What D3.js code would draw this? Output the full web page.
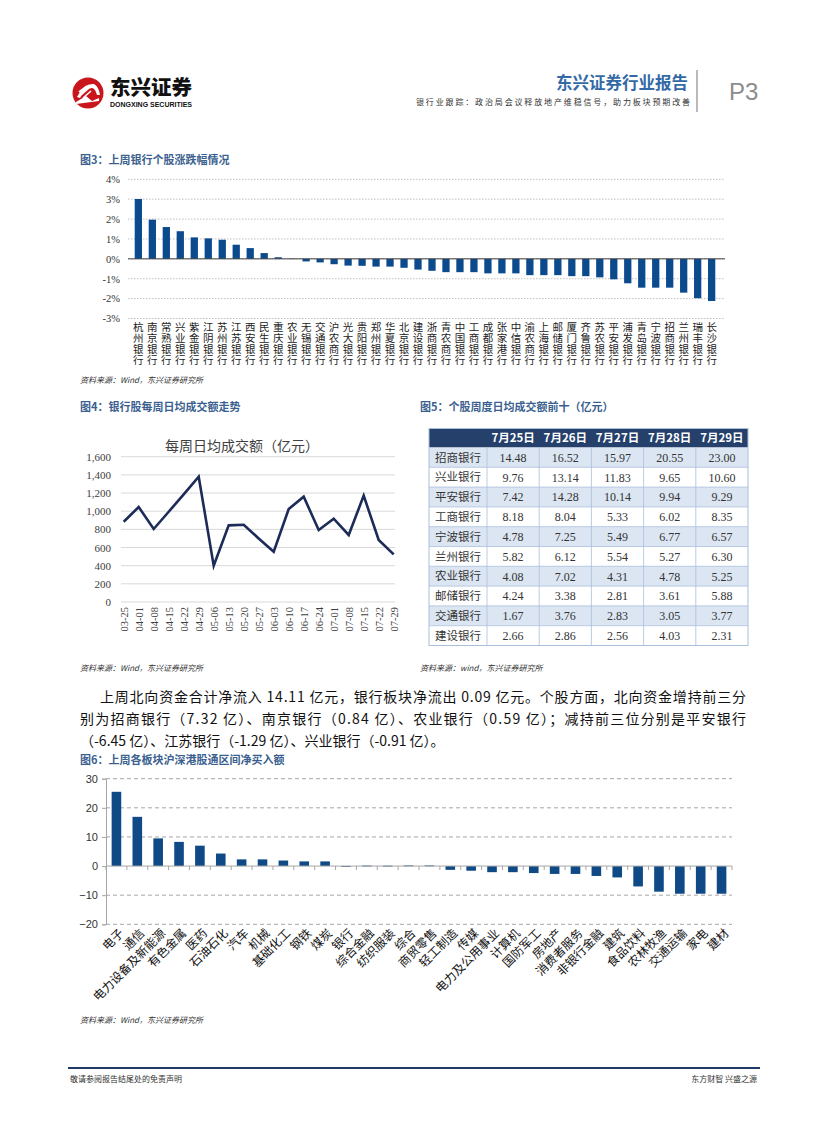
<!DOCTYPE html>
<html><head><meta charset="utf-8">
<script src="https://cdn.jsdelivr.net/npm/d3@7"></script>
<style>
body{margin:0;background:#fff;}
svg{display:block;}
text{font-family:"Noto Sans CJK SC","Noto Sans",sans-serif;}
</style></head><body>
<svg id="page" width="827" height="1122"></svg>
<script>
// ---------- DATA ----------
const fig3Banks = ["杭州银行","南京银行","常熟银行","兴业银行","紫金银行","江阴银行","苏州银行","江苏银行","西安银行","民生银行","重庆银行","农业银行","无锡银行","交通银行","沪农商行","光大银行","贵阳银行","郑州银行","华夏银行","北京银行","建设银行","浙商银行","青农商行","中国银行","工商银行","成都银行","张家港行","中信银行","渝农商行","上海银行","邮储银行","厦门银行","齐鲁银行","苏农银行","平安银行","浦发银行","青岛银行","宁波银行","招商银行","兰州银行","瑞丰银行","长沙银行"];
const fig3Values = [3.01,1.97,1.60,1.39,1.08,1.03,0.96,0.71,0.54,0.29,0.08,-0.01,-0.13,-0.18,-0.27,-0.34,-0.35,-0.39,-0.39,-0.45,-0.54,-0.60,-0.67,-0.67,-0.67,-0.73,-0.73,-0.73,-0.82,-0.82,-0.82,-0.87,-0.87,-0.93,-1.03,-1.23,-1.45,-1.45,-1.45,-1.70,-1.98,-2.12];
const fig3Ticks = [-3,-2,-1,0,1,2,3,4];

const fig4Dates = ["03-25","04-01","04-08","04-15","04-22","04-29","05-06","05-13","05-20","05-27","06-03","06-10","06-17","06-24","07-01","07-08","07-15","07-22","07-29"];
const fig4Values = [884,1046,804,994,1185,1380,400,844,851,700,554,1024,1160,793,917,738,1171,683,525];
const fig4Ticks = [0,200,400,600,800,1000,1200,1400,1600];

const fig5Dates = ["7月25日","7月26日","7月27日","7月28日","7月29日"];
const fig5Stocks = ["招商银行","兴业银行","平安银行","工商银行","宁波银行","兰州银行","农业银行","邮储银行","交通银行","建设银行"];
const fig5Values = [
  ["14.48","16.52","15.97","20.55","23.00"],
  ["9.76","13.14","11.83","9.65","10.60"],
  ["7.42","14.28","10.14","9.94","9.29"],
  ["8.18","8.04","5.33","6.02","8.35"],
  ["4.78","7.25","5.49","6.77","6.57"],
  ["5.82","6.12","5.54","5.27","6.30"],
  ["4.08","7.02","4.31","4.78","5.25"],
  ["4.24","3.38","2.81","3.61","5.88"],
  ["1.67","3.76","2.83","3.05","3.77"],
  ["2.66","2.86","2.56","4.03","2.31"]
];

const fig6Sectors = ["电子","通信","电力设备及新能源","有色金属","医药","石油石化","汽车","机械","基础化工","钢铁","煤炭","银行","综合金融","纺织服装","综合","商贸零售","轻工制造","传媒","电力及公用事业","计算机","国防军工","房地产","消费者服务","非银行金融","建筑","食品饮料","农林牧渔","交通运输","家电","建材"];
const fig6Values = [25.5,16.9,9.5,8.3,7.0,4.3,2.3,2.3,1.9,1.6,1.6,-0.09,0.15,0.12,0.2,0.2,-1.3,-1.6,-2.1,-2.1,-2.4,-2.7,-2.7,-3.4,-3.9,-7.0,-8.8,-9.5,-9.5,-9.5];
const fig6Ticks = [-20,-10,0,10,20,30];

// ---------- PAGE ----------
const svg = d3.select("#page");
const CJK = '"Noto Sans CJK SC",sans-serif';
const SERIF = '"Liberation Serif","DejaVu Serif",serif';
const titleColor = "#3b5f8f";

// Header logo
const logo = svg.append("g").attr("transform","translate(88,93)");
logo.append("circle").attr("r",15.5).attr("fill","#c9161d");
logo.append("path").attr("d","M-11,4 Q-4,-10 6,-9 Q11,-6 12,2 L9,2 Q7,-5 4,-5 Q-3,-5 -8,5 Z").attr("fill","#fff");
logo.append("path").attr("d","M-9,-1 L-1,-7 M-7,2 L1,-5 M-5,5 L3,-2").attr("stroke","#fff").attr("stroke-width",1.6).attr("fill","none");
logo.append("path").attr("d","M-12,9 L-2,3 L4,8 L11,5 L11,8 L-12,11 Z").attr("fill","#fff");
svg.append("text").attr("x",110).attr("y",95).text("东兴证券")
  .style("font-size","20.5px").style("font-weight","900").attr("fill","#111").attr("textLength",82).attr("lengthAdjust","spacingAndGlyphs");
svg.append("text").attr("x",110).attr("y",107).text("DONGXING SECURITIES")
  .style("font-family",'"Liberation Sans",Arial,sans-serif').style("font-size","7px").style("font-weight","bold").attr("fill","#111").attr("textLength",82).attr("lengthAdjust","spacingAndGlyphs");

svg.append("text").attr("x",688).attr("y",88.5).attr("text-anchor","end").text("东兴证券行业报告")
  .style("font-size","16.5px").style("font-weight","bold").attr("fill","#336aa6");
svg.append("text").attr("x",690).attr("y",104.5).attr("text-anchor","end").text("银行业跟踪：政治局会议释放地产维稳信号，助力板块预期改善")
  .style("font-size","8px").attr("fill","#333").attr("textLength",274).attr("lengthAdjust","spacing");
svg.append("line").attr("x1",697).attr("x2",697).attr("y1",70).attr("y2",112).attr("stroke","#8c8c8c").attr("stroke-width",1.2);
svg.append("text").attr("x",729).attr("y",100).text("P3")
  .style("font-family",'"Liberation Sans",Arial,sans-serif').style("font-size","24px").attr("fill","#8c8c8c");

// Footer
svg.append("line").attr("x1",68).attr("x2",760).attr("y1",1068).attr("y2",1068).attr("stroke","#1f3864").attr("stroke-width",2);
svg.append("text").attr("x",70).attr("y",1082).text("敬请参阅报告结尾处的免责声明").style("font-size","8px").attr("fill","#333");
svg.append("text").attr("x",757).attr("y",1082).attr("text-anchor","end").text("东方财智 兴盛之源").style("font-size","8px").attr("fill","#333");

function figTitle(x,y,t){
  svg.append("text").attr("x",x).attr("y",y).text(t)
    .style("font-size","11px").style("font-weight","bold").attr("fill",titleColor);
}
function source(x,y,t){
  svg.append("text").attr("x",x).attr("y",y).text(t)
    .style("font-size","8px").style("font-style","italic").attr("fill","#333");
}

// ---------- FIG 3 ----------
figTitle(80,164,"图3：上周银行个股涨跌幅情况");
{
  const g = svg.append("g");
  const x = d3.scaleBand().domain(fig3Banks).range([128,722]).padding(0.48);
  const y = d3.scaleLinear().domain([-3,4]).range([318.5,179.3]);
  g.selectAll(".grid").data(fig3Ticks).join("line")
    .attr("x1",128).attr("x2",725).attr("y1",d=>y(d)).attr("y2",d=>y(d))
    .attr("stroke","#bfbfbf").attr("stroke-width",1).attr("stroke-dasharray","1.5,1.5");
  const ya = d3.axisLeft(y).tickValues(fig3Ticks).tickSize(0).tickPadding(0).tickFormat(d=>d+"%");
  const yg = g.append("g").attr("transform","translate(120,0)").call(ya);
  yg.select(".domain").remove();
  yg.selectAll("text").style("font-family",SERIF).style("font-size","10.5px").attr("fill","#333");
  g.selectAll(".bar").data(fig3Values).join("rect")
    .attr("x",(d,i)=>x(fig3Banks[i])).attr("width",x.bandwidth())
    .attr("y",d=>y(Math.max(0,d))).attr("height",d=>Math.abs(y(d)-y(0)))
    .attr("fill","#0b4a8c");
  g.append("line").attr("x1",128).attr("x2",725).attr("y1",y(0)).attr("y2",y(0)).attr("stroke","#404040").attr("stroke-width",1);
  const xa = d3.axisBottom(x).tickSize(0).tickPadding(0);
  const xg = g.append("g").attr("transform","translate(0,322)").call(xa);
  xg.select(".domain").remove();
  xg.selectAll(".tick text").attr("x",0).attr("y",0).attr("dy",null)
    .style("writing-mode","vertical-rl").style("text-orientation","upright")
    .style("text-anchor","start").style("letter-spacing","0.5px")
    .style("font-family",CJK).style("font-size","10.5px").attr("fill","#222");
}
source(80,383,"资料来源：Wind，东兴证券研究所");

// ---------- FIG 4 ----------
figTitle(80,411,"图4：银行股每周日均成交额走势");
{
  const g = svg.append("g");
  const x = d3.scalePoint().domain(fig4Dates).range([123.7,393.7]);
  const y = d3.scaleLinear().domain([0,1600]).range([602,456.7]);
  g.append("text").attr("x",242).attr("y",451).attr("text-anchor","middle").text("每周日均成交额（亿元）")
    .style("font-size","14px").attr("fill","#404040");
  g.selectAll(".grid").data(fig4Ticks).join("line")
    .attr("x1",121).attr("x2",395).attr("y1",d=>y(d)).attr("y2",d=>y(d))
    .attr("stroke","#d9d9d9").attr("stroke-width",1);
  const ya = d3.axisLeft(y).tickValues(fig4Ticks).tickSize(0).tickPadding(0).tickFormat(d3.format(","));
  const yg = g.append("g").attr("transform","translate(111,0)").call(ya);
  yg.select(".domain").remove();
  yg.selectAll("text").style("font-family",SERIF).style("font-size","11px").attr("fill","#404040");
  const line = d3.line().x((d,i)=>x(fig4Dates[i])).y(d=>y(d));
  g.append("path").datum(fig4Values).attr("d",line).attr("fill","none")
    .attr("stroke","#1c2b57").attr("stroke-width",2.6).attr("stroke-linejoin","miter");
  const xa = d3.axisBottom(x).tickSize(0).tickPadding(0);
  const xg = g.append("g").attr("transform","translate(0,607)").call(xa);
  xg.select(".domain").remove();
  xg.selectAll("text").attr("transform","rotate(-90)").attr("x",0).attr("y",0).attr("dy","0.35em")
    .style("text-anchor","end").style("font-family",SERIF).style("font-size","10.5px").attr("fill","#404040");
}
source(80,671,"资料来源：Wind，东兴证券研究所");

// ---------- FIG 5 (table) ----------
figTitle(420,411,"图5：个股周度日均成交额前十（亿元）");
{
  const g = svg.append("g");
  const left = 429, labelW = 58, right = 748, top = 428.5, headH = 19;
  const cx = d3.scaleBand().domain(fig5Dates).range([left+labelW,right]);
  const ry = d3.scaleBand().domain(fig5Stocks).range([top+headH,645.5]);
  g.append("rect").attr("x",left).attr("y",top).attr("width",right-left).attr("height",headH).attr("fill","#24406b");
  fig5Stocks.forEach((s,i)=>{
    g.append("rect").attr("x",left).attr("y",ry(s)).attr("width",right-left).attr("height",ry.bandwidth())
      .attr("fill", i%2===0 ? "#dce6f2" : "#ffffff");
  });
  fig5Stocks.forEach((s,i)=>{
    g.append("line").attr("x1",left).attr("x2",right).attr("y1",ry(s)+ry.bandwidth()).attr("y2",ry(s)+ry.bandwidth())
      .attr("stroke","#a9bfdc").attr("stroke-width",0.8);
  });
  fig5Dates.forEach(d=>{
    g.append("line").attr("x1",cx(d)).attr("x2",cx(d)).attr("y1",top+headH).attr("y2",645.5)
      .attr("stroke","#a9bfdc").attr("stroke-width",0.8);
  });
  g.append("rect").attr("x",left).attr("y",top).attr("width",right-left).attr("height",645.5-top)
    .attr("fill","none").attr("stroke","#a9bfdc").attr("stroke-width",1);
  fig5Dates.forEach(d=>{
    g.append("text").attr("x",cx(d)+cx.bandwidth()/2).attr("y",top+headH/2).attr("dy","0.36em")
      .attr("text-anchor","middle").text(d).style("font-size","11.5px").style("font-weight","bold").attr("fill","#fff");
  });
  fig5Stocks.forEach((s,i)=>{
    g.append("text").attr("x",left+labelW/2).attr("y",ry(s)+ry.bandwidth()/2).attr("dy","0.36em")
      .attr("text-anchor","middle").text(s).style("font-size","11.5px").attr("fill","#333");
    fig5Values[i].forEach((v,j)=>{
      g.append("text").attr("x",cx(fig5Dates[j])+cx.bandwidth()/2).attr("y",ry(s)+ry.bandwidth()/2).attr("dy","0.36em")
        .attr("text-anchor","middle").text(v).style("font-family",SERIF).style("font-size","12px").attr("fill","#333");
    });
  });
}
source(420,671,"资料来源：wind，东兴证券研究所");

// ---------- PARAGRAPH ----------
{
  const lines = [
    {x:100,y:702,t:"上周北向资金合计净流入 14.11 亿元，银行板块净流出 0.09 亿元。个股方面，北向资金增持前三分",w:646},
    {x:80,y:724,t:"别为招商银行（7.32 亿）、南京银行（0.84 亿）、农业银行（0.59 亿）；减持前三位分别是平安银行",w:666},
    {x:80,y:746,t:"（-6.45 亿）、江苏银行（-1.29 亿）、兴业银行（-0.91 亿）。",w:null}
  ];
  lines.forEach(l=>{
    const t = svg.append("text").attr("x",l.x).attr("y",l.y).text(l.t).style("font-size","14px").attr("fill","#111");
    if(l.w) t.attr("textLength",l.w).attr("lengthAdjust","spacing");
  });
}

// ---------- FIG 6 ----------
figTitle(80,764,"图6：上周各板块沪深港股通区间净买入额");
{
  const g = svg.append("g");
  const x = d3.scaleBand().domain(fig6Sectors).range([106,732]).paddingInner(0.54).paddingOuter(0.27);
  const y = d3.scaleLinear().domain([-20,30]).range([924.3,778.7]);
  g.selectAll(".grid").data(fig6Ticks.filter(d=>d!==0)).join("line")
    .attr("x1",106).attr("x2",732).attr("y1",d=>y(d)).attr("y2",d=>y(d))
    .attr("stroke","#a6a6a6").attr("stroke-width",1).attr("stroke-dasharray","4,3");
  const ya = d3.axisLeft(y).tickValues(fig6Ticks).tickSize(4).tickPadding(4);
  const yg = g.append("g").attr("transform","translate(106,0)").call(ya);
  yg.select(".domain").attr("stroke","#a6a6a6");
  yg.selectAll("line").attr("stroke","#a6a6a6");
  yg.selectAll("text").style("font-family",'"Liberation Sans",Arial,sans-serif').style("font-size","11px").attr("fill","#333");
  g.selectAll(".bar").data(fig6Values).join("rect")
    .attr("x",(d,i)=>x(fig6Sectors[i])).attr("width",x.bandwidth())
    .attr("y",d=>y(Math.max(0,d))).attr("height",d=>Math.max(0.8,Math.abs(y(d)-y(0))))
    .attr("fill","#0f4a87");
  g.append("line").attr("x1",106).attr("x2",732).attr("y1",y(0)).attr("y2",y(0)).attr("stroke","#a6a6a6");
  const step = (x.range()[1]-x.range()[0])/fig6Sectors.length;
  g.selectAll(".xt").data(d3.range(fig6Sectors.length+1)).join("line")
    .attr("x1",i=>x.range()[0]+i*step).attr("x2",i=>x.range()[0]+i*step)
    .attr("y1",y(0)).attr("y2",y(0)+4).attr("stroke","#a6a6a6");
  g.selectAll(".lab").data(fig6Sectors).join("text")
    .attr("transform",d=>`translate(${x(d)+x.bandwidth()/2+5},${931}) rotate(-45)`)
    .attr("text-anchor","end").attr("dy","0.35em").text(d=>d)
    .style("font-size","12px").attr("fill","#111");
}
source(80,1023,"资料来源：Wind，东兴证券研究所");
</script>
</body></html>
